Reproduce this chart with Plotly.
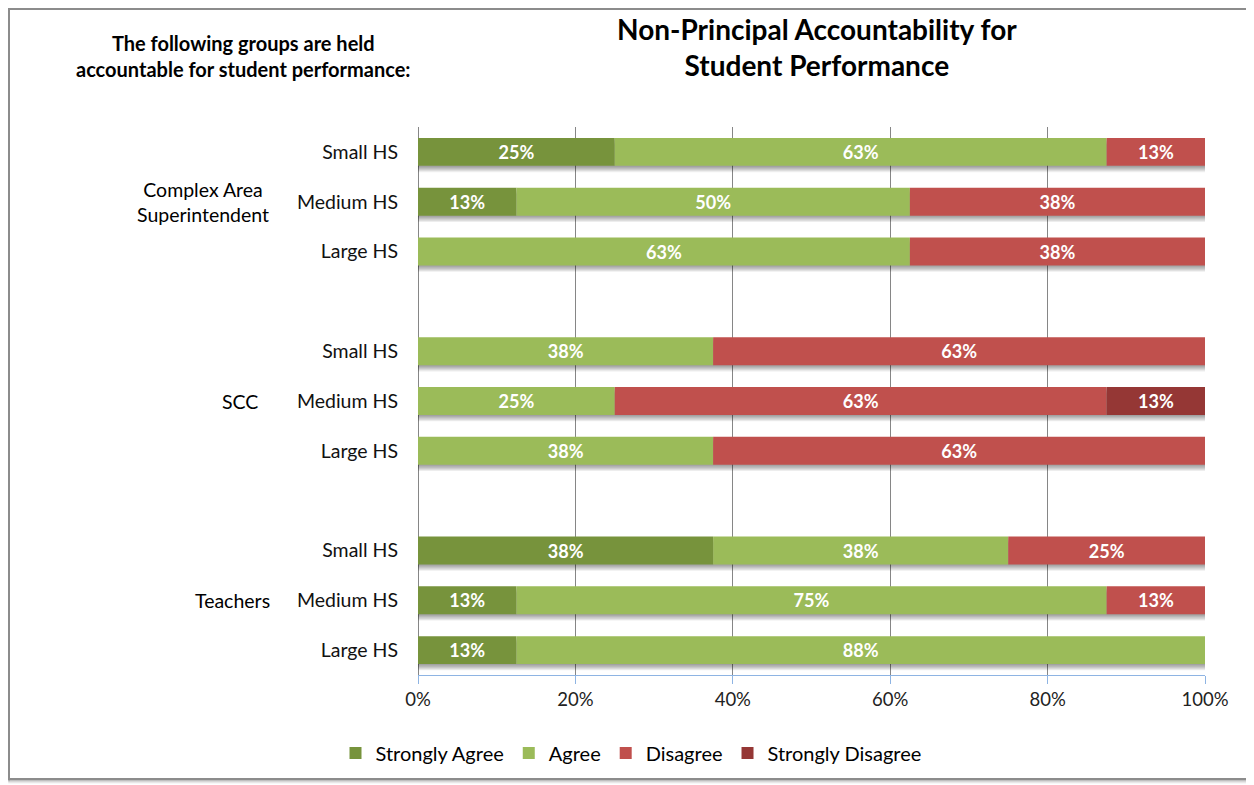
import plotly.graph_objects as go

# page has an 8px body margin, so the figure is drawn 8px smaller and shifted
OFF = 8
W, H = 1254 - OFF, 785 - OFF
FONT = "Lato"

groups = ["Complex Area<br>Superintendent", "SCC", "Teachers"]
sizes = ["Small HS", "Medium HS", "Large HS"]
series = ["Strongly Agree", "Agree", "Disagree", "Strongly Disagree"]
colors = ["#77933C", "#9BBB59", "#C0504D", "#953735"]

# share of respondents (%), in order: CAS small/medium/large, SCC ..., Teachers ...
strongly_agree = [25, 12.5, 0, 0, 0, 0, 37.5, 12.5, 12.5]
agree = [62.5, 50, 62.5, 37.5, 25, 37.5, 37.5, 75, 87.5]
disagree = [12.5, 37.5, 37.5, 62.5, 62.5, 62.5, 25, 12.5, 0]
strongly_disagree = [0, 0, 0, 0, 12.5, 0, 0, 0, 0]
values = [strongly_agree, agree, disagree, strongly_disagree]

x_ticks = [0, 20, 40, 60, 80, 100]
BAR_W = 0.56


def px(x):
    return (x - OFF) / W


def py(y):
    return 1 - (y - OFF) / H


# row positions: three bars per group, one empty slot between groups
rows = [g * 4 + i for g in range(len(groups)) for i in range(len(sizes))]
row_labels = [s for g in groups for s in sizes]
totals = [sum(v) for v in zip(*values)]

fig = go.Figure()

# soft drop shadow under each bar, built from a few offset translucent layers
for k in range(1, 7):
    fig.add_trace(go.Bar(
        y=rows, x=totals, orientation="h", width=BAR_W, offset=-BAR_W / 2 + 0.021 * k,
        marker=dict(color="rgba(0,0,0,0.07)", line=dict(width=0)),
        showlegend=False, hoverinfo="skip",
    ))

base = [0] * len(rows)
for name, col, vals in zip(series, colors, values):
    fig.add_trace(go.Bar(
        y=rows, x=vals, base=list(base), name=name, orientation="h",
        marker=dict(color=col, line=dict(width=0)),
        width=BAR_W,
        text=[f"{int(v + 0.5)}%" if v > 0 else "" for v in vals],
        textposition="inside", insidetextanchor="middle",
        textfont=dict(family=FONT, size=19, color="white", weight="bold"),
        hoverinfo="skip",
    ))
    base = [b + v for b, v in zip(base, vals)]

fig.update_layout(
    width=W, height=H,
    barmode="overlay",
    paper_bgcolor="white", plot_bgcolor="white",
    margin=dict(l=0, r=0, t=0, b=0, autoexpand=False),
    font=dict(family=FONT, size=19.5, color="#000000"),
    showlegend=True,
    legend=dict(orientation="h", x=px(631), y=py(753), xanchor="center", yanchor="middle",
                font=dict(size=20), traceorder="normal", itemwidth=30),
    xaxis=dict(domain=[px(418), px(1205)], range=[0, 100], tickvals=x_ticks,
               ticktext=[f"{t}%" for t in x_ticks], automargin=False,
               showgrid=True, gridcolor="#868686", gridwidth=1,
               zeroline=True, zerolinecolor="#868686", zerolinewidth=1,
               showline=True, linecolor="#8EB4E3", linewidth=1,
               ticks="outside", tickcolor="#8EB4E3", ticklen=8,
               tickfont=dict(size=18.5, color="#222222"), fixedrange=True),
    yaxis=dict(domain=[py(675), py(127)], range=[10.5, -0.5], automargin=False,
               tickvals=rows, ticktext=row_labels, showgrid=False, zeroline=False,
               ticks="", ticklabelstandoff=19,
               tickfont=dict(size=19.5, color="#111111"), fixedrange=True),
)

# chart titles
fig.add_annotation(x=px(817), y=py(47), xref="paper", yref="paper",
                   text="Non-Principal Accountability for<br>Student Performance",
                   showarrow=False, font=dict(size=28, weight="bold"),
                   xanchor="center", yanchor="middle")
fig.add_annotation(x=px(243), y=py(56), xref="paper", yref="paper",
                   text="The following groups are held<br>accountable for student performance:",
                   showarrow=False, font=dict(size=20, weight="bold"),
                   xanchor="center", yanchor="middle")

# group labels
group_x = [203, 240, 232]
for g, (lab, gx) in enumerate(zip(groups, group_x)):
    fig.add_annotation(x=px(gx), y=g * 4 + 1, xref="paper", yref="y", text=lab,
                       showarrow=False, font=dict(size=19.5), xanchor="center",
                       yanchor="middle", align="center")

# frame with soft shadow
for k, op in enumerate([0.5, 0.35, 0.22, 0.12, 0.06]):
    fig.add_shape(type="rect", xref="paper", yref="paper",
                  x0=px(9), y0=py(779 + k), x1=px(1250 + k), y1=py(9),
                  line=dict(color=f"rgba(90,90,90,{op})", width=1.5), layer="below")
fig.add_shape(type="rect", xref="paper", yref="paper",
              x0=px(9), y0=py(779), x1=px(1250), y1=py(9),
              line=dict(color="#8C8C8C", width=2), layer="below")

fig.write_html("out.html")
